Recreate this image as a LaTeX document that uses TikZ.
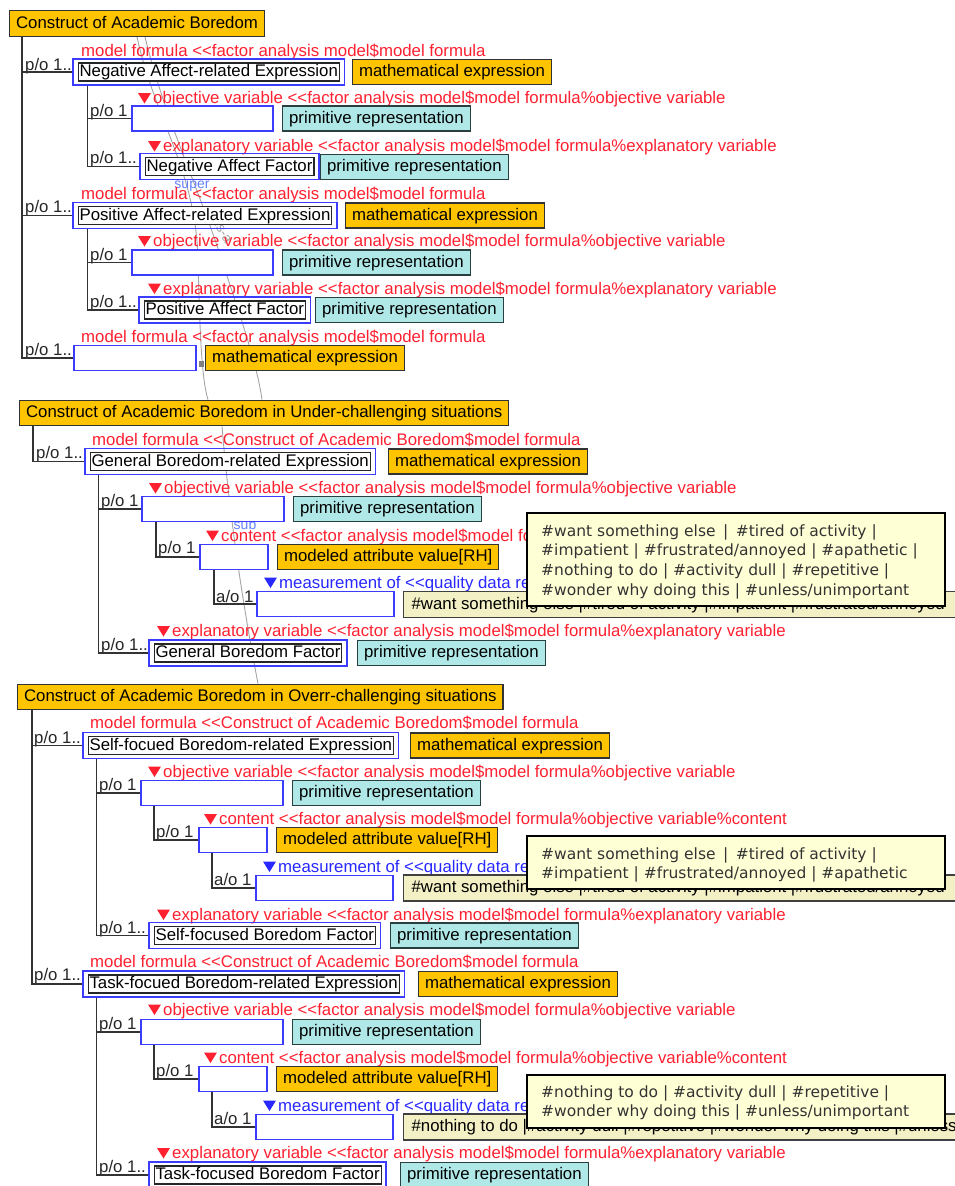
\documentclass[tikz,border=0pt]{standalone}
\usepackage{fontspec}
\setmainfont{Liberation Sans}
\newfontfamily\tipfont{DejaVu Sans}
\usetikzlibrary{fit,backgrounds}
\pgfdeclarelayer{canvas}
\pgfsetlayers{canvas,background,main}
\definecolor{hdrorange}{RGB}{255,196,0}
\definecolor{primcyan}{RGB}{176,232,232}
\definecolor{primedge}{RGB}{40,64,64}
\definecolor{redlab}{RGB}{255,32,48}
\definecolor{bluelab}{RGB}{40,40,255}
\definecolor{boxblue}{RGB}{60,60,255}
\definecolor{valfill}{RGB}{242,240,196}
\definecolor{tipfill}{RGB}{255,255,214}
\definecolor{treegray}{RGB}{51,51,51}
\definecolor{faint}{RGB}{165,165,165}
\definecolor{faintblue}{RGB}{100,130,255}
\newcommand\mainfs{\fontsize{16.8}{19}\selectfont}
\newcommand\tipfs{\tipfont\fontsize{15.5}{19.7}\selectfont}
\newcommand\dlt{<\kern0pt<}
\tikzset{
  filledbox/.style={draw=black!80, line width=1.2pt, inner xsep=6.5pt, inner ysep=0pt,
    minimum height=25pt, text height=12.5pt, text depth=3pt, anchor=west, font=\mainfs},
  orng/.style={filledbox, fill=hdrorange},
  prim/.style={filledbox, fill=primcyan, draw=primedge},
  hdr/.style={filledbox, fill=hdrorange, minimum height=25.5pt},
  empt/.style={draw=boxblue, fill=white, line width=1.5pt, minimum height=25pt, anchor=west, inner sep=0pt},
  inbox/.style={draw=black!85, fill=white, line width=1.1pt, inner xsep=1.5pt, inner ysep=0pt,
    minimum height=18pt, text height=12.5pt, text depth=3pt, font=\mainfs},
  outbox/.style={draw=boxblue, line width=1.5pt, inner xsep=4.5pt, inner ysep=3.5pt},
  lab/.style={font=\mainfs, inner sep=0pt, anchor=base west},
  rel/.style={lab, text=redlab},
  pol/.style={lab, text=black!85},
  tree/.style={draw=treegray, line width=1.4pt},
  valbox/.style={draw=black!75, fill=valfill, line width=1.2pt, inner xsep=8pt, inner ysep=0pt,
    minimum height=26pt, text height=12.5pt, text depth=3pt, anchor=west, font=\mainfs},
  tip/.style={draw=black, fill=tipfill, line width=1.5pt, anchor=north west, inner sep=0pt},
  tiptext/.style={inner sep=0pt, anchor=base west, text=black!80, font=\tipfs},
  faintline/.style={draw=faint, line width=0.9pt},
  faintlab/.style={inner sep=0pt, font=\fontsize{14}{16}\selectfont},
}
\newcommand\trilab[5]{%
  \node[lab, text=#4] (#1) at (#2+15,#3) {#5};
  \fill[#4] ([xshift=-15pt,yshift=10.5pt]#1.base west) -- ([xshift=-2pt,yshift=10.5pt]#1.base west)
    -- ([xshift=-8.5pt]#1.base west) -- cycle;
}
\newcommand\dbox[4]{%
  \node[inbox, anchor=west] (#1t) at (#2+4.5,#3) {#4};
  \node[outbox, fit=(#1t)] (#1) {};
}
\newcommand\objtxt{objective variable \dlt factor analysis model\$model formula\%objective variable}
\newcommand\expltxt{explanatory variable \dlt factor analysis model\$model formula\%explanatory variable}
\newcommand\conttxt{content \dlt factor analysis model\$model formula\%objective variable\%content}
\newcommand\meastxt{measurement of \dlt quality data representation}
\begin{document}
\begin{tikzpicture}[x=1pt,y=-1pt]
\useasboundingbox (0,0) rectangle (955,1186);
\clip (0,0) rectangle (955,1186);
\begin{pgfonlayer}{canvas}
\fill[white] (0,0) rectangle (955,1186);
\end{pgfonlayer}

% ---------------- Section 1 ----------------
\node[hdr] (h1) at (9,23.5) {Construct of Academic Boredom};
\node[rel] (l1) at (81,56) {model formula \dlt factor analysis model\$model formula};
\node[pol] (p1) at (25,70) {p/o 1..};
\dbox{e1}{73}{72}{Negative Affect-related Expression}
\node[orng] (m1) at (352,72) {mathematical expression};
\trilab{l2}{138}{103.5}{redlab}{\objtxt}
\node[pol] (p2) at (90,116) {p/o 1};
\node[empt, minimum width=141pt] (o1) at (131,118.5) {};
\node[prim] (q1) at (282,118.5) {primitive representation};
\trilab{l3}{148}{151.5}{redlab}{\expltxt}
\node[pol] (p3) at (90,163) {p/o 1..};
\dbox{f1}{140}{166.5}{Negative Affect Factor}
\node[prim] (q2) at (320,167) {primitive representation};

\node[rel] (l4) at (81,199) {model formula \dlt factor analysis model\$model formula};
\node[pol] (p4) at (25,212) {p/o 1..};
\dbox{e2}{73}{215.5}{Positive Affect-related Expression}
\node[orng] (m2) at (345,215.5) {mathematical expression};
\trilab{l5}{138}{246.5}{redlab}{\objtxt}
\node[pol] (p5) at (90,260) {p/o 1};
\node[empt, minimum width=141pt] (o2) at (131,262.5) {};
\node[prim] (q3) at (282,262.5) {primitive representation};
\trilab{l6}{148}{294}{redlab}{\expltxt}
\node[pol] (p6) at (90,307) {p/o 1..};
\dbox{f2}{139}{310}{Positive Affect Factor}
\node[prim] (q4) at (315,310) {primitive representation};

\node[rel] (l7) at (81,342.5) {model formula \dlt factor analysis model\$model formula};
\node[pol] (p7) at (25,355) {p/o 1..};
\node[empt, minimum width=122pt] (e3) at (73,358) {};
\node[orng] (m3) at (205,358) {mathematical expression};

% ---------------- Section 2 ----------------
\node[hdr] (h2) at (19,413) {Construct of Academic Boredom in Under-challenging situations};
\node[rel] (l8) at (92,445) {model formula \dlt Construct of Academic Boredom\$model formula};
\node[pol] (p8) at (36,458) {p/o 1..};
\dbox{e4}{85}{461.5}{General Boredom-related Expression}
\node[orng] (m4) at (388,461.5) {mathematical expression};
\trilab{l9}{149}{493.5}{redlab}{\objtxt}
\node[pol] (p9) at (101,506) {p/o 1};
\node[empt, minimum width=142pt] (o4) at (141,509) {};
\node[prim] (q5) at (293,509) {primitive representation};
\trilab{l10}{206}{541}{redlab}{\conttxt}
\node[pol] (p10) at (158,553.5) {p/o 1};
\node[empt, minimum width=68pt] (c4) at (199,557) {};
\node[orng] (r4) at (277,557) {modeled attribute value[RH]};
\trilab{l11}{264}{588}{bluelab}{\meastxt}
\node[pol] (p11) at (216,602) {a/o 1};
\node[empt, minimum width=137pt] (g4) at (256,604) {};
\node[valbox] (v4) at (403,604.5) {\#want something else |\#tired of activity |\#impatient |\#frustrated/annoyed\hspace*{80pt}};
\trilab{l12}{157}{636.5}{redlab}{\expltxt}
\node[pol] (p12) at (101,650) {p/o 1..};
\dbox{f4}{149}{653}{General Boredom Factor}
\node[prim] (q6) at (357,653) {primitive representation};
\node[tip, minimum width=418pt, minimum height=93pt] (t1) at (526,512) {};
\node[tiptext] (t1a) at (541,536) {\begin{tabular}[t]{@{}l@{}}
\#want something else \,|\, \#tired of activity |\\
\#impatient | \#frustrated/annoyed | \#apathetic |\\
\#nothing to do | \#activity dull | \#repetitive |\\
\#wonder why doing this | \#unless/unimportant\end{tabular}};

% ---------------- Section 3 ----------------
\node[hdr] (h3) at (17,697) {Construct of Academic Boredom in Overr-challenging situations};
\node[rel] (l13) at (90,728.5) {model formula \dlt Construct of Academic Boredom\$model formula};
\node[pol] (p13) at (34,743) {p/o 1..};
\dbox{e5}{83}{745.5}{Self-focued Boredom-related Expression}
\node[orng] (m5) at (410,745.5) {mathematical expression};
\trilab{l14}{148}{777}{redlab}{\objtxt}
\node[pol] (p14) at (99,790) {p/o 1};
\node[empt, minimum width=142pt] (o5) at (140,793) {};
\node[prim] (q7) at (292,793) {primitive representation};
\trilab{l15}{204}{824.5}{redlab}{\conttxt}
\node[pol] (p15) at (156,837) {p/o 1};
\node[empt, minimum width=68pt] (c5) at (198,840) {};
\node[orng] (r5) at (276,840) {modeled attribute value[RH]};
\trilab{l16}{263}{872}{bluelab}{\meastxt}
\node[pol] (p16) at (214,885) {a/o 1};
\node[empt, minimum width=137pt] (g5) at (255,888) {};
\node[valbox] (v5) at (403,888) {\#want something else |\#tired of activity |\#impatient |\#frustrated/annoyed\hspace*{80pt}};
\trilab{l17}{157}{920}{redlab}{\expltxt}
\node[pol] (p17) at (99,933) {p/o 1..};
\dbox{f5}{149}{935.5}{Self-focused Boredom Factor}
\node[prim] (q8) at (390,935.5) {primitive representation};
\node[tip, minimum width=418pt, minimum height=53pt] (t2) at (526,835) {};
\node[tiptext] (t2a) at (541,859) {\begin{tabular}[t]{@{}l@{}}
\#want something else \,|\, \#tired of activity |\\
\#impatient | \#frustrated/annoyed | \#apathetic\end{tabular}};

\node[rel] (l18) at (90,967) {model formula \dlt Construct of Academic Boredom\$model formula};
\node[pol] (p18) at (34,980) {p/o 1..};
\dbox{e6}{83}{984}{Task-focued Boredom-related Expression}
\node[orng] (m6) at (418,984) {mathematical expression};
\trilab{l19}{148}{1015}{redlab}{\objtxt}
\node[pol] (p19) at (99,1029) {p/o 1};
\node[empt, minimum width=142pt] (o6) at (140,1032) {};
\node[prim] (q9) at (292,1032) {primitive representation};
\trilab{l20}{204}{1063}{redlab}{\conttxt}
\node[pol] (p20) at (156,1076) {p/o 1};
\node[empt, minimum width=68pt] (c6) at (198,1079) {};
\node[orng] (r6) at (276,1079) {modeled attribute value[RH]};
\trilab{l21}{263}{1111}{bluelab}{\meastxt}
\node[pol] (p21) at (214,1124) {a/o 1};
\node[empt, minimum width=137pt] (g6) at (255,1127) {};
\node[valbox] (v6) at (403,1127) {\#nothing to do |\#activity dull |\#repetitive |\#wonder why doing this |\#unless/unimportant};
\trilab{l22}{157}{1158.5}{redlab}{\expltxt}
\node[pol] (p22) at (99,1172) {p/o 1..};
\dbox{f6}{149}{1175}{Task-focused Boredom Factor}
\node[prim] (q10) at (400,1175) {primitive representation};
\node[tip, minimum width=418pt, minimum height=53pt] (t3) at (526,1074) {};
\node[tiptext] (t3a) at (541,1097) {\begin{tabular}[t]{@{}l@{}}
\#nothing to do | \#activity dull | \#repetitive |\\
\#wonder why doing this | \#unless/unimportant\end{tabular}};

% ---------------- tree connectors ----------------
\draw[tree] ([xshift=13pt]h1.south west) |- (e1.west);
\draw[tree] ([xshift=13pt]h1.south west) |- (e2.west);
\draw[tree] ([xshift=13pt]h1.south west) |- (e3.west);
\draw[tree] ([xshift=15pt]e1.south west) |- (o1.west);
\draw[tree] ([xshift=15pt]e1.south west) |- (f1.west);
\draw[tree] ([xshift=15pt]e2.south west) |- (o2.west);
\draw[tree] ([xshift=15pt]e2.south west) |- (f2.west);

\draw[tree] ([xshift=14pt]h2.south west) |- (e4.west);
\draw[tree] ([xshift=14pt]e4.south west) |- (o4.west);
\draw[tree] ([xshift=14pt]e4.south west) |- (f4.west);
\draw[tree] ([xshift=15pt]o4.south west) |- (c4.west);
\draw[tree] ([xshift=15pt]c4.south west) |- (g4.west);

\draw[tree] ([xshift=15pt]h3.south west) |- (e5.west);
\draw[tree] ([xshift=15pt]h3.south west) |- (e6.west);
\draw[tree] ([xshift=14pt]e5.south west) |- (o5.west);
\draw[tree] ([xshift=14pt]e5.south west) |- (f5.west);
\draw[tree] ([xshift=14pt]o5.south west) |- (c5.west);
\draw[tree] ([xshift=14pt]c5.south west) |- (g5.west);
\draw[tree] ([xshift=14pt]e6.south west) |- (o6.west);
\draw[tree] ([xshift=14pt]e6.south west) |- (f6.west);
\draw[tree] ([xshift=14pt]o6.south west) |- (c6.west);
\draw[tree] ([xshift=14pt]c6.south west) |- (g6.west);

% ---------------- faint is-a links (behind) ----------------
\begin{pgfonlayer}{background}
\draw[faintline] ([xshift=128pt]h1.south west) .. controls (155,120) and (196,170) .. (198,260)
  .. controls (200,340) and (202,380) .. ([xshift=189pt]h2.north west);
\draw[faintline] ([xshift=136pt]h1.south west) .. controls (165,120) and (200,190) .. (225,270)
  .. controls (245,330) and (258,370) .. ([xshift=243pt]h2.north west);
\draw[faintline] ([xshift=203pt]h2.south west) .. controls (228,500) and (240,590) .. ([xshift=241pt]h3.north west);
\node[faintlab, text=faintblue] (sup1) at (192,186) {super};
\node[faintlab, text=faint, rotate=-60] (isa1) at (224,232) {is-a};
\node[faintlab, text=faintblue] (sub1) at (245,524) {sub};
\fill[gray] (199,361) rectangle (204,367);
\end{pgfonlayer}
\end{tikzpicture}
\end{document}
